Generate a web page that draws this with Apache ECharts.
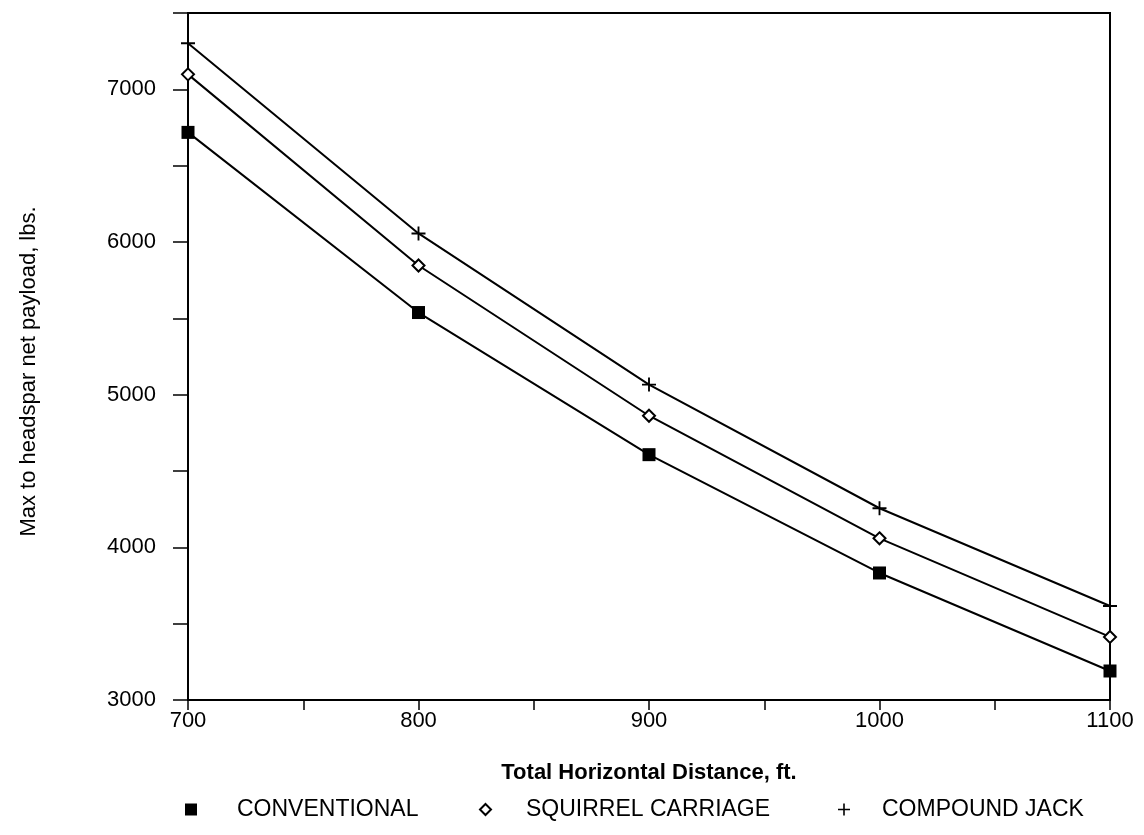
<!DOCTYPE html>
<html>
<head>
<meta charset="utf-8">
<script src="https://cdn.jsdelivr.net/npm/echarts@6/dist/echarts.min.js"></script>
<style>
html,body{margin:0;padding:0;background:#fff;}
#chart{width:1144px;height:835px;}
</style>
</head>
<body>
<div id="chart"></div>
<script>
const distances = [700, 800, 900, 1000, 1100];
const conventional = [6718, 5538, 4607, 3832, 3190];
const squirrelCarriage = [7098, 5846, 4862, 4059, 3413];
const compoundJack = [7302, 6056, 5066, 4256, 3616];
const seriesNames = ['CONVENTIONAL', 'SQUIRREL CARRIAGE', 'COMPOUND JACK'];

const plusPath = 'path://M0,5.2H12V6.8H0Z M5.2,0H6.8V12H5.2Z';
const font = '"Liberation Sans", Arial, sans-serif';

function pairs(vals) { return distances.map((d, i) => [d, vals[i]]); }

function legendAt(left, name, icon, w, h, pad) {
  return {
    left: left, top: 793, itemWidth: w, itemHeight: h,
    icon: icon,
    data: [name],
    formatter: n => '{p|}' + n,
    textStyle: { fontFamily: font, fontSize: 23, color: '#000',
      rich: { p: { width: pad } } }
  };
}

const chart = echarts.init(document.getElementById('chart'));
chart.setOption({
  animation: false,
  backgroundColor: '#fff',
  grid: { left: 188, top: 13, right: 34, bottom: 135, show: true, borderColor: '#000', borderWidth: 2 },
  xAxis: {
    type: 'value', min: 700, max: 1100, interval: 50,
    name: 'Total Horizontal Distance, ft.', nameLocation: 'middle', nameGap: 62,
    nameTextStyle: { fontFamily: font, fontSize: 22, fontWeight: 'bold', color: '#000' },
    axisLine: { lineStyle: { color: '#000', width: 2 } },
    axisTick: { length: 10, lineStyle: { color: '#000', width: 1.5 } },
    axisLabel: { fontFamily: font, fontSize: 22, color: '#000', margin: 10,
      formatter: v => (v % 100 === 0 ? String(v) : '') },
    splitLine: { show: false }
  },
  yAxis: {
    type: 'value', min: 3000, max: 7500, interval: 500,
    name: 'Max to headspar net payload, lbs.', nameLocation: 'middle', nameGap: 148,
    nameTextStyle: { fontFamily: font, fontSize: 22, color: '#000', padding: [0, 30, 0, 0] },
    axisLine: { lineStyle: { color: '#000', width: 2 } },
    axisTick: { length: 15, lineStyle: { color: '#000', width: 1.5 } },
    axisLabel: { fontFamily: font, fontSize: 22, color: '#000', margin: 32,
      formatter: v => (v % 1000 === 0 ? String(v) : '') },
    splitLine: { show: false }
  },
  legend: [
    legendAt(180, seriesNames[0], 'rect', 12, 12, 35),
    legendAt(474, seriesNames[1], 'emptyDiamond', 11, 11, 30),
    legendAt(833, seriesNames[2], plusPath, 12, 12, 27)
  ],
  series: [
    { name: seriesNames[0], type: 'line', data: pairs(conventional), symbol: 'rect', symbolSize: 13,
      lineStyle: { color: '#000', width: 2 }, itemStyle: { color: '#000' } },
    { name: seriesNames[1], type: 'line', data: pairs(squirrelCarriage), symbol: 'emptyDiamond', symbolSize: 12,
      lineStyle: { color: '#000', width: 2 }, itemStyle: { color: '#000', borderColor: '#000', borderWidth: 1.5 } },
    { name: seriesNames[2], type: 'line', data: pairs(compoundJack), symbol: plusPath, symbolSize: 14,
      lineStyle: { color: '#000', width: 2 }, itemStyle: { color: '#000' } }
  ]
});
</script>
</body>
</html>
